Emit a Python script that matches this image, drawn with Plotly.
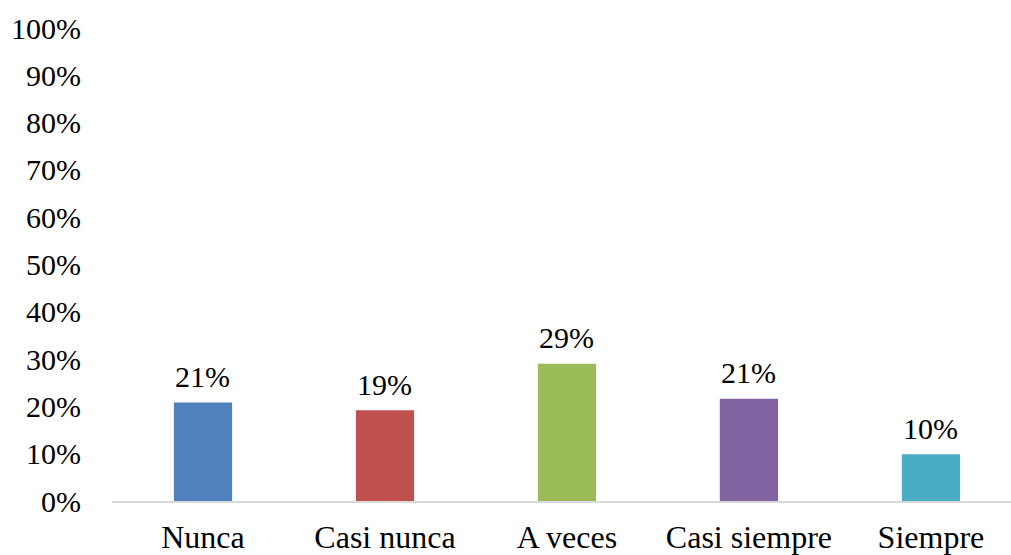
import plotly.graph_objects as go

categories = ["Nunca", "Casi nunca", "A veces", "Casi siempre", "Siempre"]
values = [0.208, 0.192, 0.290, 0.216, 0.099]
labels = ["21%", "19%", "29%", "21%", "10%"]
colors = ["#4F81BD", "#C0504D", "#9BBB59", "#8064A2", "#4BACC6"]
y_ticks = [i / 10 for i in range(11)]
y_ticktext = [f"{i*10}%" for i in range(11)]

FONT = "Liberation Serif"

fig = go.Figure(go.Bar(
    x=list(range(len(categories))),
    y=values,
    width=0.32,
    marker=dict(color=colors, line=dict(width=0)),
    cliponaxis=False,
))

for i, (v, t) in enumerate(zip(values, labels)):
    fig.add_annotation(
        x=i, y=v, text=t, showarrow=False,
        yanchor="middle", yshift=26,
        font=dict(family=FONT, size=30, color="#000000"),
    )

fig.update_layout(
    width=1011, height=555,
    margin=dict(l=112, r=0, t=28, b=54),
    paper_bgcolor="white", plot_bgcolor="white",
    showlegend=False,
    font=dict(family=FONT, size=30, color="#000000"),
)
fig.update_xaxes(
    tickmode="array", tickvals=list(range(len(categories))), ticktext=categories,
    range=[-0.5, 4.44], showgrid=False, zeroline=False,
    showline=True, linecolor="#D9D9D9", linewidth=2,
    ticks="", ticklabelstandoff=7, automargin=False,
    tickfont=dict(family=FONT, size=32, color="#000000"),
)
fig.update_yaxes(
    range=[0, 1], tickmode="array", tickvals=y_ticks, ticktext=y_ticktext,
    showgrid=False, zeroline=False, showline=False, ticks="",
    ticklabelstandoff=30, automargin=False,
    tickfont=dict(family=FONT, size=30, color="#000000"),
)

fig.write_html("out.html")
